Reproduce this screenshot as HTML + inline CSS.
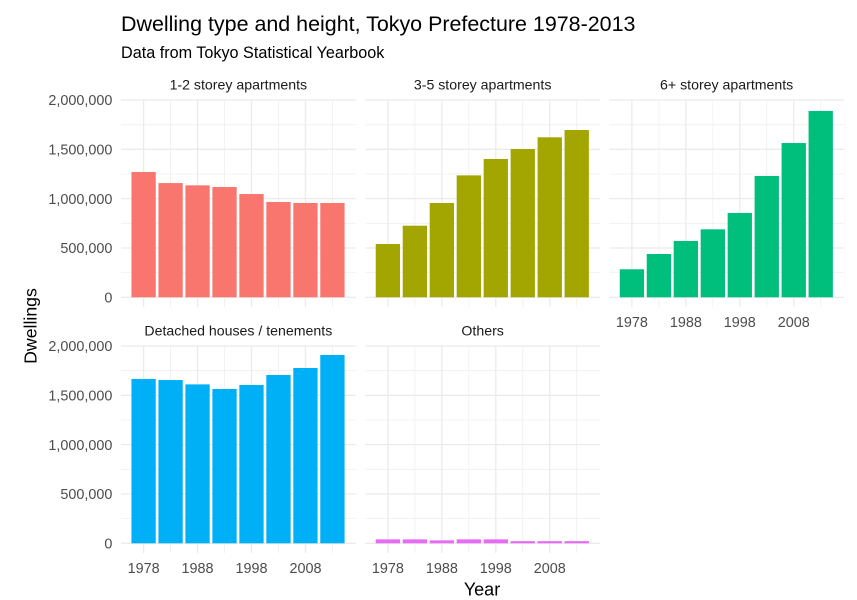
<!DOCTYPE html>
<html>
<head>
<meta charset="utf-8">
<title>Dwelling type and height, Tokyo Prefecture 1978-2013</title>
<style>
html,body{margin:0;padding:0;background:#fff;}
svg{display:block;font-family:"Liberation Sans",Arial,sans-serif;}
</style>
</head>
<body>
<svg id="chart" xmlns="http://www.w3.org/2000/svg" width="857" height="600" viewBox="0 0 857 600">
<rect x="0" y="0" width="857" height="600" fill="#ffffff"/>
<text x="121" y="31" font-size="21.45" fill="#000">Dwelling type and height, Tokyo Prefecture 1978-2013</text>
<text x="121" y="58" font-size="16.2" fill="#000">Data from Tokyo Statistical Yearbook</text>
<text x="0" y="0" transform="translate(36.5,326) rotate(-90)" text-anchor="middle" font-size="17.7" fill="#000">Dwellings</text>
<text x="482" y="595.5" text-anchor="middle" font-size="18" fill="#000">Year</text>
<g id="panels"></g>
</svg>
<script>
const years = [1978, 1983, 1988, 1993, 1998, 2003, 2008, 2013];
const xTickYears = [1978, 1988, 1998, 2008];
const xMinorYears = [1983, 1993, 2003, 2013];
const yTicks = [0, 500000, 1000000, 1500000, 2000000];
const yMinorTicks = [250000, 750000, 1250000, 1750000];
const yTickLabels = ["0", "500,000", "1,000,000", "1,500,000", "2,000,000"];
const xTickLabels = ["1978", "1988", "1998", "2008"];

const lowRise = [1270000, 1158000, 1135000, 1118000, 1047000, 966000, 956000, 956000];
const midRise = [540000, 726000, 956000, 1236000, 1402000, 1503000, 1622000, 1696000];
const highRise = [284000, 439000, 571000, 689000, 855000, 1230000, 1564000, 1889000];
const detached = [1666000, 1655000, 1611000, 1564000, 1605000, 1706000, 1777000, 1909000];
const others = [40000, 40000, 30000, 40000, 40000, 22000, 22000, 22000];

const panelNames = ["1-2 storey apartments", "3-5 storey apartments", "6+ storey apartments", "Detached houses / tenements", "Others"];
const panelValues = [lowRise, midRise, highRise, detached, others];
const panelColors = ["#F8766D", "#A3A500", "#00BF7D", "#00B0F6", "#E76BF3"];

const NS = "http://www.w3.org/2000/svg";
const root = document.getElementById("panels");
const colLeft = [121, 365.3, 609.3];
const rowTop = [100, 346];
const panelW = 234.7;
const panelH = 207;
const zeroOffset = 197.3;

function make(tag, attrs, parent) {
  const el = document.createElementNS(NS, tag);
  for (const k in attrs) el.setAttribute(k, attrs[k]);
  parent.appendChild(el);
  return el;
}
function slug(s) {
  return s.toLowerCase().replace(/[^a-z0-9]+/g, "-").replace(/^-|-$/g, "");
}

panelNames.forEach(function (name, i) {
  const col = i % 3;
  const row = Math.floor(i / 3);
  const left = colLeft[col];
  const top = rowTop[row];
  const xScale = function (yr) { return left + 22.6 + (yr - 1978) * 5.395; };
  const yScale = function (v) { return top + zeroOffset - (v / 2000000) * zeroOffset; };
  const key = slug(name);

  const g = make("g", {}, root);
  
  

  const strip = make("text", { x: left + panelW / 2, y: top - 10.5, "text-anchor": "middle", "font-size": "14.15", fill: "#1A1A1A" }, g);
  
  
  strip.textContent = name;

  yMinorTicks.forEach(function (v) {
    const l = make("line", { x1: left, x2: left + panelW, y1: yScale(v), y2: yScale(v), stroke: "#EFEFEF", "stroke-width": "0.8" }, g);
    
    
  });
  xMinorYears.forEach(function (yr) {
    const l = make("line", { x1: xScale(yr), x2: xScale(yr), y1: top, y2: top + panelH, stroke: "#EFEFEF", "stroke-width": "0.8" }, g);
    
    
  });
  yTicks.forEach(function (v) {
    const l = make("line", { x1: left, x2: left + panelW, y1: yScale(v), y2: yScale(v), stroke: "#EBEBEB", "stroke-width": "1.3" }, g);
    
    
  });
  xTickYears.forEach(function (yr) {
    const l = make("line", { x1: xScale(yr), x2: xScale(yr), y1: top, y2: top + panelH, stroke: "#EBEBEB", "stroke-width": "1.3" }, g);
    
    
  });

  years.forEach(function (yr, j) {
    const v = panelValues[i][j];
    const b = make("rect", { x: xScale(yr) - 12.15, width: 24.3, y: yScale(v), height: yScale(0) - yScale(v), fill: panelColors[i] }, g);
    
    
  });

  if (col === 0) {
    yTicks.forEach(function (v, k) {
      const t = make("text", { x: left - 8.6, y: yScale(v) + 5.2, "text-anchor": "end", "font-size": "14.4", fill: "#4D4D4D" }, g);
      
      
      t.textContent = yTickLabels[k];
    });
  }
  if (i >= 2) {
    xTickYears.forEach(function (yr, k) {
      const t = make("text", { x: xScale(yr), y: top + panelH + 20, "text-anchor": "middle", "font-size": "14.4", fill: "#4D4D4D" }, g);
      
      
      t.textContent = xTickLabels[k];
    });
  }
});
</script>
</body>
</html>
